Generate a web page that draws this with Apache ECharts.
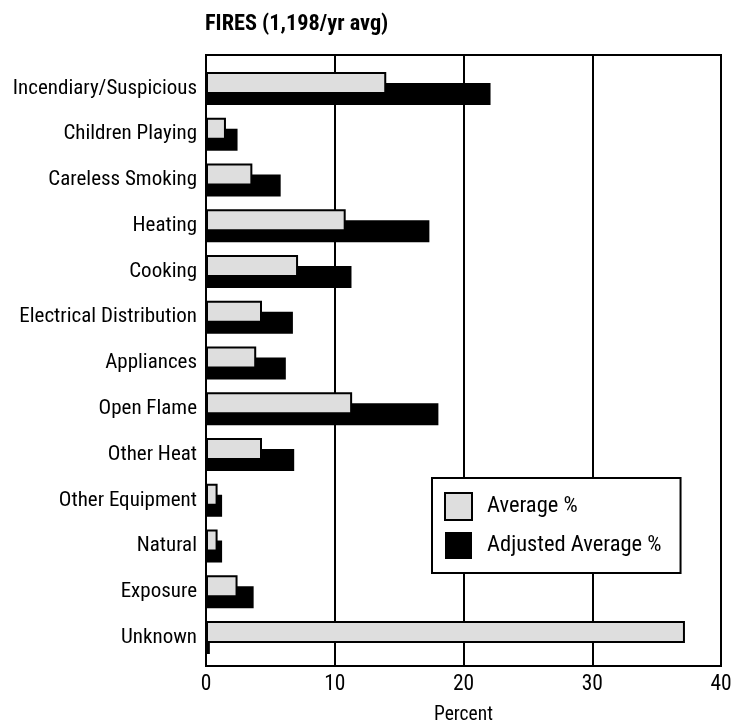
<!DOCTYPE html>
<html><head><meta charset="utf-8">
<script src="https://cdn.jsdelivr.net/npm/echarts@6/dist/echarts.min.js"></script>
<style>html,body{margin:0;padding:0;background:#fff}#c{width:731px;height:721px}</style>
</head><body><div id="c"></div>
<script>
const categories = ["Incendiary/Suspicious","Children Playing","Careless Smoking","Heating","Cooking","Electrical Distribution","Appliances","Open Flame","Other Heat","Other Equipment","Natural","Exposure","Unknown"];
const averagePct = [14.0, 1.55, 3.6, 10.85, 7.15, 4.35, 3.9, 11.35, 4.35, 0.9, 0.9, 2.45, 37.2];
const adjustedPct = [22.1, 2.45, 5.8, 17.35, 11.3, 6.75, 6.2, 18.05, 6.85, 1.25, 1.25, 3.7, 0.3];
const xTicks = [0, 10, 20, 30, 40];

const FONT = '"Roboto Condensed", "Liberation Sans", Arial, sans-serif';
const chart = echarts.init(document.getElementById('c'), null, {renderer: 'canvas'});
chart.setOption({
  animation: false,
  backgroundColor: '#fff',
  textStyle: {fontFamily: FONT, color: '#000'},
  title: {
    text: 'FIRES (1,198/yr avg)', left: 205, top: 13, padding: 0,
    textStyle: {fontFamily: FONT, fontWeight: 'bold', fontSize: 22.3, color: '#000'}
  },
  legend: {
    orient: 'vertical', left: 432, top: 478,
    padding: [14, 19, 14, 12], itemGap: 11, itemWidth: 27, itemHeight: 27,
    backgroundColor: '#fff', borderColor: '#000', borderWidth: 2,
    icon: 'rect',
    textStyle: {fontFamily: FONT, fontSize: 22.5, color: '#000', padding: [0, 0, 0, 10]},
    data: ['Average %', 'Adjusted Average %'],
    z: 10
  },
  grid: [
    {left: 206, right: 10, top: 55, bottom: 55, show: true, borderColor: '#000', borderWidth: 2, backgroundColor: 'transparent', outerBoundsMode: 'none', containLabel: false},
    {left: 206, right: 10, top: 65.6, bottom: 60.6, outerBoundsMode: 'none', containLabel: false}
  ],
  xAxis: [
    {gridIndex: 0, type: 'value', min: xTicks[0], max: xTicks[xTicks.length - 1], interval: 10,
     name: 'Percent', nameLocation: 'middle', nameGap: 39,
     nameTextStyle: {fontFamily: FONT, fontSize: 19.5, color: '#000'},
     axisLine: {show: false}, axisTick: {show: false},
     axisLabel: {fontFamily: FONT, fontSize: 21.5, color: '#000', margin: 8},
     splitLine: {show: true, lineStyle: {color: '#000', width: 2}}},
    {gridIndex: 1, type: 'value', min: xTicks[0], max: xTicks[xTicks.length - 1], show: false, splitLine: {show: false}}
  ],
  yAxis: [
    {gridIndex: 0, type: 'value', show: false, splitLine: {show: false}},
    {gridIndex: 1, type: 'category', data: categories, inverse: true,
     axisLine: {show: false}, axisTick: {show: false}, splitLine: {show: false},
     axisLabel: {fontFamily: FONT, fontSize: 21, color: '#000', margin: 9, padding: [0, 0, 4, 0]}}
  ],
  series: [
    {name: 'Average %', type: 'bar', xAxisIndex: 1, yAxisIndex: 1, data: averagePct,
     barWidth: 22, barGap: '-50%', z: 4,
     itemStyle: {color: '#dedede', borderColor: '#000', borderWidth: 2}},
    {name: 'Adjusted Average %', type: 'bar', xAxisIndex: 1, yAxisIndex: 1, data: adjustedPct,
     barWidth: 22, barGap: '-50%', z: 3,
     itemStyle: {color: '#000', borderColor: '#000', borderWidth: 0}}
  ]
});
</script></body></html>
